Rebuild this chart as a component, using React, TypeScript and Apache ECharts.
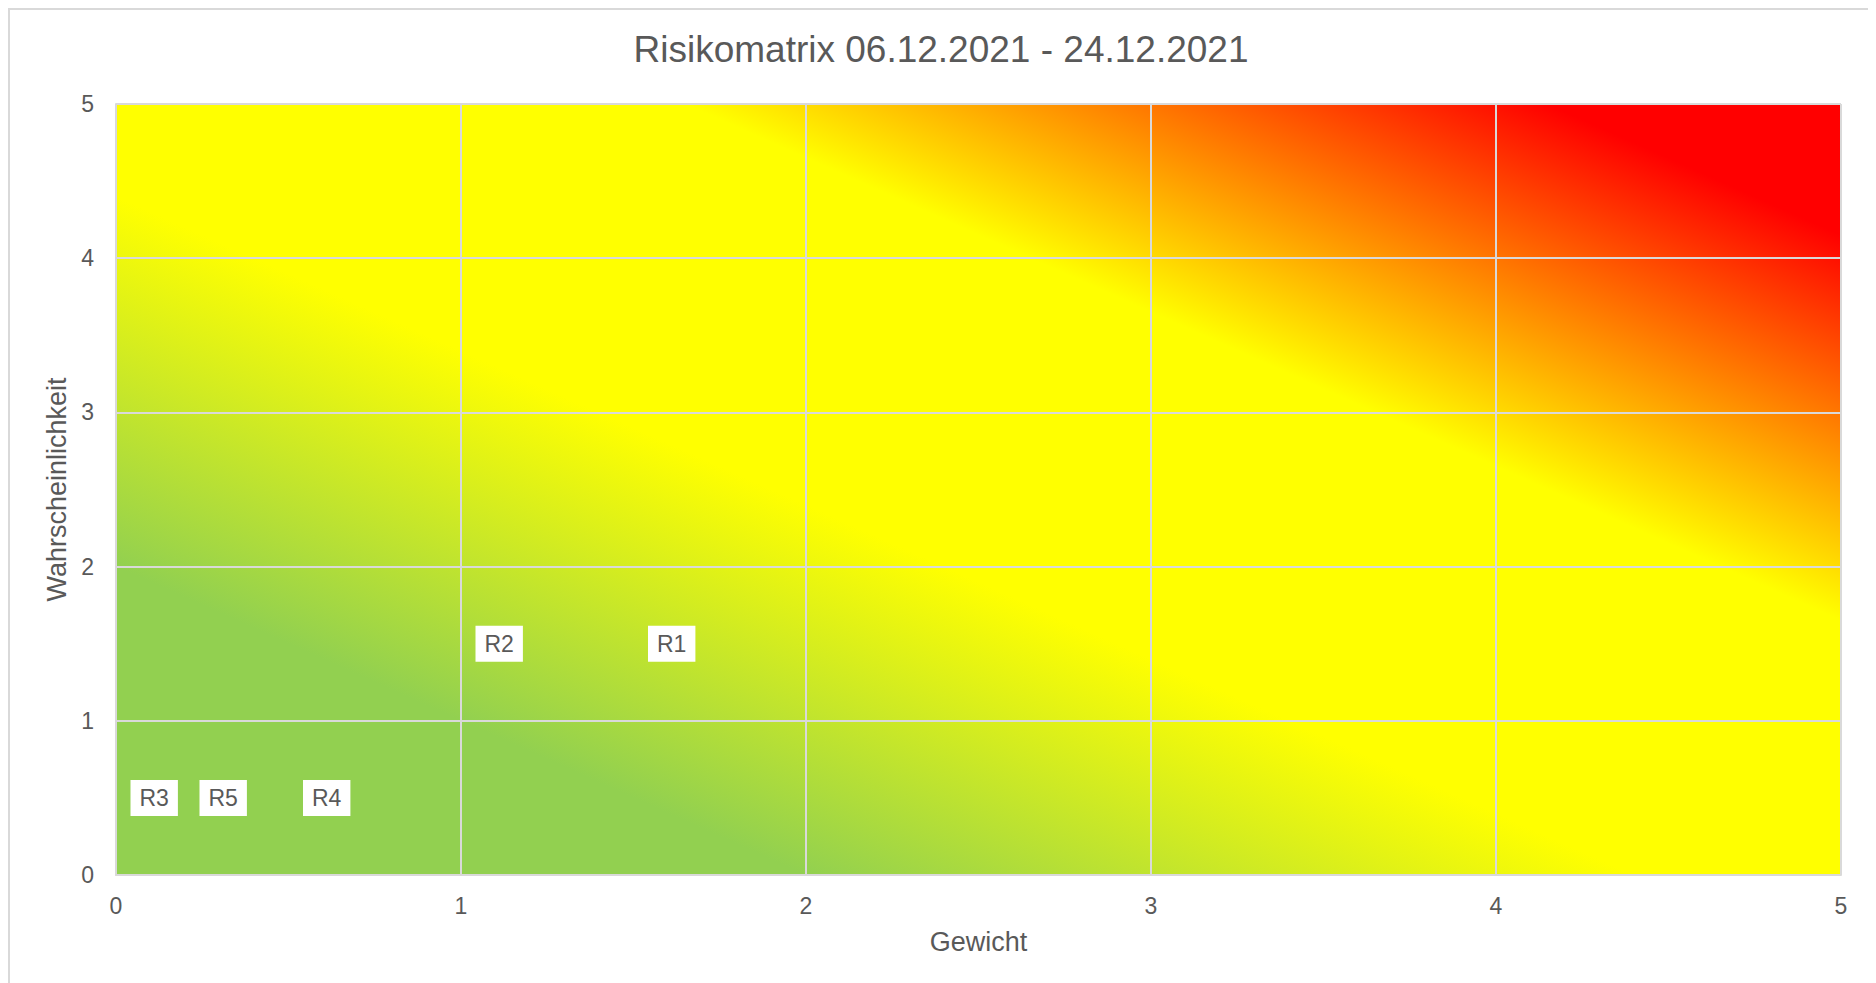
import React, { useEffect, useRef } from "react";
import * as echarts from "echarts";

const titleText = "Risikomatrix 06.12.2021 - 24.12.2021";
const xAxisName = "Gewicht";
const yAxisName = "Wahrscheinlichkeit";

const riskNames = ["R1", "R2", "R3", "R4", "R5"];
const gewicht = [1.5, 1, 0, 0.5, 0.2];
const wahrscheinlichkeit = [1.5, 1.5, 0.5, 0.5, 0.5];

const axisMin = 0;
const axisMax = 5;
const axisInterval = 1;

// gradient stops along (Gewicht + Wahrscheinlichkeit) / 10
const gradientOffsets = [0, 0.2, 0.44, 0.665, 0.915, 1];
const gradientColors = ["#92d050", "#92d050", "#ffff00", "#ffff00", "#ff0000", "#ff0000"];

const FONT = "'Liberation Sans', Arial, Helvetica, sans-serif";
const TEXT = "#595959";
const GRID_LINE = "#d9d9d9";

export default function App() {
  const ref = useRef<HTMLDivElement>(null);

  useEffect(() => {
    if (!ref.current) return;
    const chart = echarts.init(ref.current, undefined, { renderer: "svg" });

    const bg = new echarts.graphic.LinearGradient(
      0,
      1,
      1,
      0,
      gradientOffsets.map((o, i) => ({ offset: o, color: gradientColors[i] }))
    );

    const data = riskNames.map((n, i) => ({ name: n, value: [gewicht[i], wahrscheinlichkeit[i]] }));

    chart.setOption({
      animation: false,
      textStyle: { fontFamily: FONT },
      title: {
        text: titleText,
        left: "center",
        top: 18,
        textStyle: { fontFamily: FONT, fontSize: 37, fontWeight: "normal", color: TEXT },
      },
      grid: {
        left: 108,
        top: 96,
        width: 1725,
        height: 771,
        show: true,
        backgroundColor: bg,
        borderWidth: 0,
      },
      xAxis: {
        type: "value",
        min: axisMin,
        max: axisMax,
        interval: axisInterval,
        name: xAxisName,
        nameLocation: "middle",
        nameGap: 53,
        nameTextStyle: { fontFamily: FONT, fontSize: 27, color: TEXT },
        axisLine: { show: true, lineStyle: { color: GRID_LINE, width: 2 } },
        axisTick: { show: false },
        axisLabel: { fontFamily: FONT, fontSize: 23, color: TEXT, margin: 19 },
        splitLine: { show: true, lineStyle: { color: GRID_LINE, width: 2 } },
      },
      yAxis: {
        type: "value",
        min: axisMin,
        max: axisMax,
        interval: axisInterval,
        name: yAxisName,
        nameLocation: "middle",
        nameGap: 40,
        nameTextStyle: { fontFamily: FONT, fontSize: 27, color: TEXT },
        axisLine: { show: true, lineStyle: { color: GRID_LINE, width: 2 } },
        axisTick: { show: false },
        axisLabel: { fontFamily: FONT, fontSize: 23, color: TEXT, margin: 22 },
        splitLine: { show: true, lineStyle: { color: GRID_LINE, width: 2 } },
      },
      series: [
        {
          type: "scatter",
          data,
          symbolSize: 1,
          itemStyle: { color: "rgba(0,0,0,0)", opacity: 1 },
          label: {
            show: true,
            position: "right",
            distance: 14,
            formatter: (p: any) => p.name,
            fontFamily: FONT,
            fontSize: 23,
            lineHeight: 24,
            color: TEXT,
            opacity: 1,
            backgroundColor: "#ffffff",
            padding: [6, 9],
          },
        },
      ],
    });

    return () => chart.dispose();
  }, []);

  return (
    <div
      style={{
        width: 1866,
        height: 973,
        borderLeft: "2px solid #d9d9d9",
        borderTop: "2px solid #d9d9d9",
        position: "relative",
      }}
    >
      <div ref={ref} style={{ width: 1866, height: 973, marginLeft: -2, marginTop: -2 }} />
    </div>
  );
}
